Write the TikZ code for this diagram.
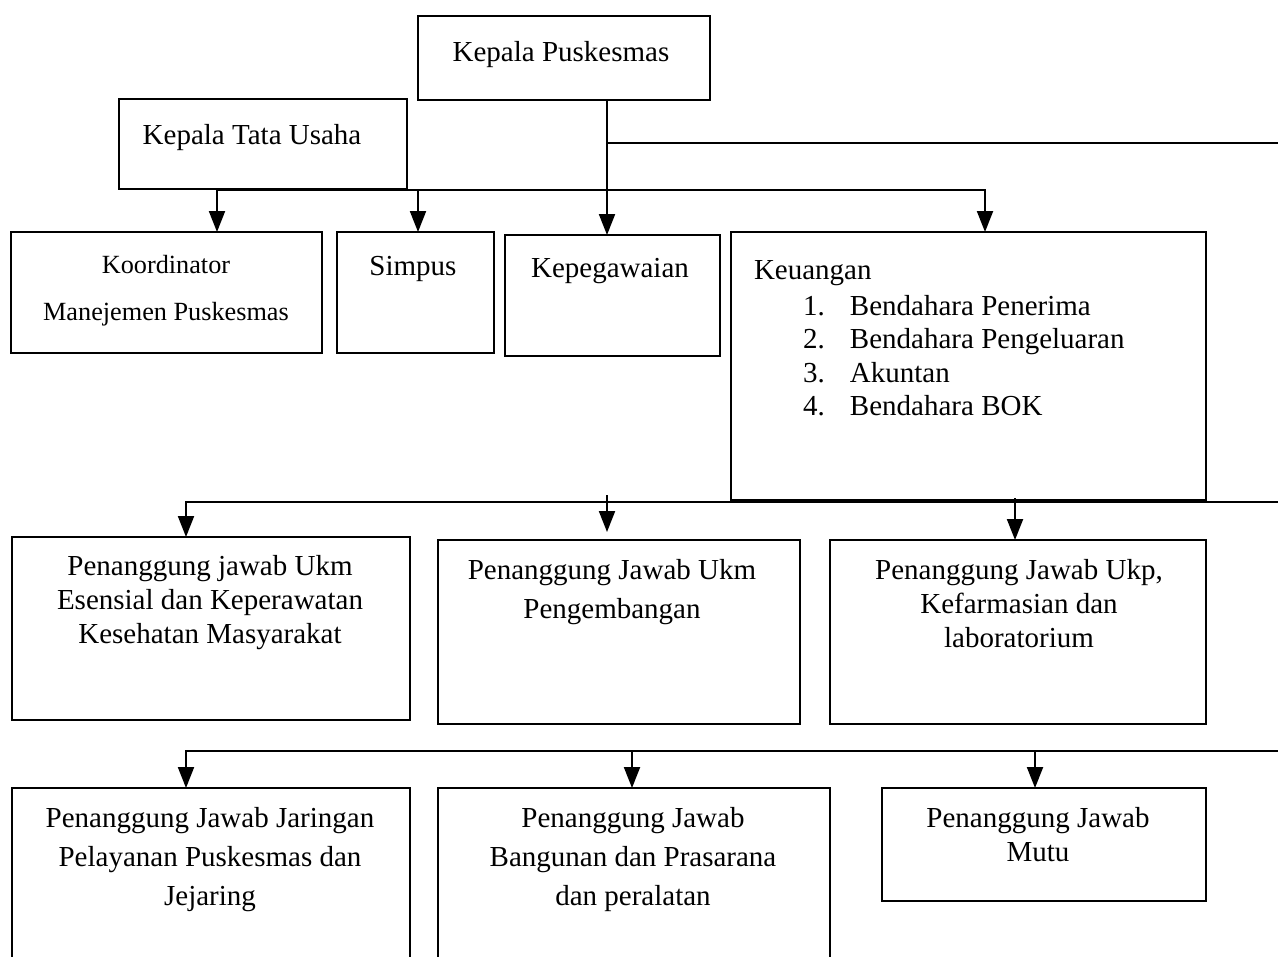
\documentclass[tikz,border=0pt]{standalone}
\usepackage{fontspec}
\setmainfont{Liberation Serif}
\usetikzlibrary{arrows.meta}
\newcommand{\pxl}{0.4pt}

\begin{document}
\begin{tikzpicture}[x=0.4pt, y=-0.4pt, line width=0.8pt,
  box/.style 2 args = {draw, anchor=north west, inner sep=0pt, outer sep=0pt,
    minimum width=#1*\pxl, minimum height=#2*\pxl},
  txt/.style = {align=center, inner sep=0pt, anchor=north,
    font=\fontsize{11.6}{13.6}\selectfont},
  wide/.style = {font=\fontsize{11.6}{15.6}\selectfont},
  arr/.style = {-{Triangle[width=6.4pt, length=8.4pt]}}]
  \useasboundingbox (0,0) rectangle (1278,956);

  \node[box={292}{84}] (kp) at (418,16) {};
  \node[txt] (kpT) at (561,40) {Kepala Puskesmas};
  \node[box={288}{90}] (ktu) at (119,99) {};
  \node[txt] (ktuT) at (252,123) {Kepala Tata Usaha};

  \node[box={311}{121}] (koord) at (11,232) {};
  \node[txt, font=\fontsize{10.5}{18.8}\selectfont] (koordT) at (166,254)
    {Koordinator\\ Manejemen Puskesmas};
  \node[box={157}{121}] (simpus) at (337,232) {};
  \node[txt] (simpusT) at (413,255) {Simpus};
  \node[box={215}{121}] (peg) at (505,235) {};
  \node[txt] (pegT) at (610,257) {Kepegawaian};
  \node[box={475}{268}] (keu) at (731,232) {};
  \node[txt, align=left, anchor=north west, font=\fontsize{11.6}{13.4}\selectfont]
    (keuT) at (753,259) {Keuangan\\[1pt]
    \hspace*{19.6pt}\makebox[18.8pt][l]{1.}Bendahara Penerima\\
    \hspace*{19.6pt}\makebox[18.8pt][l]{2.}Bendahara Pengeluaran\\
    \hspace*{19.6pt}\makebox[18.8pt][l]{3.}Akuntan\\
    \hspace*{19.6pt}\makebox[18.8pt][l]{4.}Bendahara BOK};

  \node[box={398}{183}] (ukm) at (12,537) {};
  \node[txt] (ukmT) at (210,554) {Penanggung jawab Ukm\\ Esensial dan Keperawatan\\ Kesehatan Masyarakat};
  \node[box={362}{184}] (peng) at (438,540) {};
  \node[txt, wide] (pengT) at (612,558) {Penanggung Jawab Ukm\\ Pengembangan};
  \node[box={376}{184}] (ukp) at (830,540) {};
  \node[txt] (ukpT) at (1019,558) {Penanggung Jawab Ukp,\\ Kefarmasian dan\\ laboratorium};

  \node[box={398}{300}] (jar) at (12,788) {};
  \node[txt, wide] (jarT) at (210,806) {Penanggung Jawab Jaringan\\ Pelayanan Puskesmas dan\\ Jejaring};
  \node[box={392}{300}] (bang) at (438,788) {};
  \node[txt, wide] (bangT) at (633,806) {Penanggung Jawab\\ Bangunan dan Prasarana\\ dan peralatan};
  \node[box={324}{113}] (mutu) at (882,788) {};
  \node[txt] (mutuT) at (1038,806) {Penanggung Jawab\\ Mutu};

  % trunk from Kepala Puskesmas
  \coordinate (pj) at (607,143);
  \coordinate (pe) at (1278,143);
  \draw[arr] (kp.south -| pj) -- (peg.north -| pj);
  \draw (pj) -- (pe);

  % bar under Kepala Tata Usaha
  \coordinate (ta) at (217,190);
  \coordinate (tb) at (418,190);
  \coordinate (tc) at (985,190);
  \draw[arr] (ta) -- (tc) -- (keu.north -| tc);
  \draw[arr] (ta) -- (koord.north -| ta);
  \draw[arr] (tb) -- (simpus.north -| tb);

  % third row
  \coordinate (ra) at (186,502);
  \coordinate (rb) at (607,495);
  \coordinate (rc) at (1015,498);
  \coordinate (re) at (1278,502);
  \draw[arr] (re) -- (ra) -- (ukm.north -| ra);
  \draw[arr, shorten >=3.2pt] (rb) -- (peng.north -| rb);
  \draw[arr] (rc) -- (ukp.north -| rc);

  % fourth row
  \coordinate (sa) at (186,751);
  \coordinate (sb) at (632,751);
  \coordinate (sc) at (1035,751);
  \coordinate (se) at (1278,751);
  \draw[arr] (se) -- (sa) -- (jar.north -| sa);
  \draw[arr] (sb) -- (bang.north -| sb);
  \draw[arr] (sc) -- (mutu.north -| sc);
\end{tikzpicture}
\end{document}
